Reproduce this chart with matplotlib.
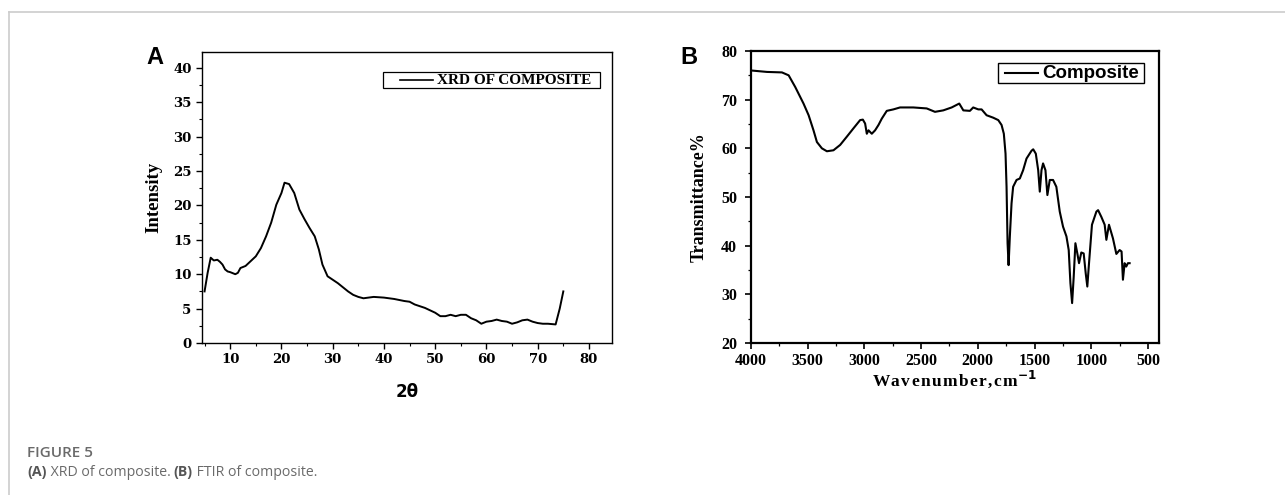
import matplotlib
matplotlib.use("Agg")
import matplotlib.pyplot as plt
from matplotlib.ticker import MultipleLocator
from matplotlib.lines import Line2D
from matplotlib.patches import Rectangle

# ---- Data: XRD (panel A) ----
xrd_2theta = [5.0, 5.6, 6.2, 6.8, 7.5, 8.0, 8.5, 9.0, 9.5, 10.0, 11.0, 11.5, 12.0, 13.0, 14.0,
              15.0, 16.0, 17.0, 18.0, 19.0, 20.0, 20.6, 21.5, 22.5, 23.5, 24.5, 25.5, 26.5,
              27.3, 28.0, 29.0, 30.0, 31.0, 32.0, 33.0, 34.0, 35.0, 36.0, 38.0, 40.0, 42.0,
              44.0, 45.0, 46.0, 48.0, 50.0, 51.0, 52.0, 53.0, 54.0, 55.0, 56.0, 57.0, 58.0,
              59.0, 60.0, 61.0, 62.0, 63.0, 64.0, 65.0, 66.0, 67.0, 68.0, 69.0, 70.0, 71.0,
              72.0, 73.5, 74.3, 75.0]
xrd_intensity = [7.5, 10.2, 12.4, 12.0, 12.1, 11.8, 11.4, 10.7, 10.4, 10.3, 10.0, 10.2, 10.9,
                 11.2, 11.9, 12.6, 13.8, 15.5, 17.5, 20.1, 21.8, 23.3, 23.1, 21.8, 19.4, 18.0,
                 16.7, 15.5, 13.6, 11.4, 9.7, 9.2, 8.7, 8.1, 7.5, 7.0, 6.7, 6.5, 6.7, 6.6,
                 6.4, 6.1, 6.0, 5.6, 5.1, 4.4, 3.9, 3.9, 4.1, 3.9, 4.1, 4.1, 3.6, 3.3, 2.8,
                 3.1, 3.2, 3.4, 3.2, 3.1, 2.8, 3.0, 3.3, 3.4, 3.1, 2.9, 2.8, 2.8, 2.7, 5.0, 7.5]

# ---- Data: FTIR (panel B) ----
ftir_wavenumber = [4000, 3859, 3727, 3668, 3610, 3537, 3492, 3449, 3419, 3375, 3331, 3273, 3214,
                   3155, 3097, 3038, 3014, 2994, 2979, 2964, 2935, 2906, 2876, 2847, 2803, 2745,
                   2686, 2569, 2451, 2378, 2305, 2231, 2164, 2128, 2070, 2041, 1996, 1967, 1923,
                   1865, 1820, 1791, 1771, 1756, 1747, 1738, 1729, 1718, 1703, 1689, 1659, 1630,
                   1601, 1571, 1527, 1512, 1489, 1468, 1454, 1439, 1425, 1404, 1387, 1366, 1337,
                   1308, 1278, 1249, 1219, 1199, 1184, 1169, 1155, 1140, 1123, 1108, 1088, 1067,
                   1049, 1035, 1020, 994, 955, 940, 911, 882, 867, 844, 809, 779, 750, 733, 721,
                   706, 692, 677, 662]
ftir_transmittance = [76.0, 75.7, 75.6, 75.0, 72.6, 69.2, 66.8, 63.7, 61.3, 60.0, 59.4, 59.6,
                      60.7, 62.4, 64.1, 65.8, 65.9, 65.1, 63.0, 63.7, 63.0, 63.7, 64.8, 66.1,
                      67.7, 68.0, 68.4, 68.4, 68.2, 67.5, 67.8, 68.4, 69.2, 67.8, 67.7, 68.4,
                      68.0, 68.0, 66.8, 66.3, 65.8, 64.8, 63.0, 58.9, 52.1, 40.5, 36.0, 41.9,
                      48.7, 52.1, 53.5, 53.8, 55.5, 57.9, 59.5, 59.8, 58.9, 55.5, 51.1, 55.5,
                      56.9, 55.5, 50.4, 53.5, 53.5, 52.1, 47.0, 43.9, 41.9, 39.1, 32.3, 28.2,
                      33.6, 40.5, 38.4, 36.4, 38.6, 38.4, 34.3, 31.6, 36.4, 44.3, 47.0, 47.3,
                      45.9, 44.3, 41.2, 44.3, 41.5, 38.3, 39.1, 38.8, 33.0, 36.4, 35.7, 36.4, 36.4]

xrd_xticks = [10, 20, 30, 40, 50, 60, 70, 80]
xrd_yticks = [0, 5, 10, 15, 20, 25, 30, 35, 40]
ftir_xticks = [4000, 3500, 3000, 2500, 2000, 1500, 1000, 500]
ftir_yticks = [20, 30, 40, 50, 60, 70, 80]

W, H = 1285, 495
fig = plt.figure(figsize=(W / 100, H / 100), dpi=100)

def box(l, t, r, b):
    return [l / W, 1 - b / H, (r - l) / W, (b - t) / H]

def fx(px):
    return px / W

def fy(py):
    return 1 - py / H

def manual_legend(l, t, r, b, h0, h1, label, family, size, lw_frame, lw_line):
    fig.add_artist(Rectangle((fx(l), fy(b)), fx(r) - fx(l), fy(t) - fy(b),
                             transform=fig.transFigure, fill=True, facecolor="white",
                             edgecolor="black", lw=lw_frame, zorder=5))
    yc = fy((t + b) / 2)
    fig.add_artist(Line2D([fx(h0), fx(h1)], [yc, yc], color="black", lw=lw_line, zorder=6))
    fig.text(fx(h1 + 4), yc, label, fontfamily=family, fontweight="bold", fontsize=size,
             va="center", ha="left", zorder=6)

# frame lines
fig.add_artist(Line2D([fx(9), 1], [fy(12), fy(12)], color="#cccccc", lw=1.2))
fig.add_artist(Line2D([fx(9), fx(9)], [fy(12), 0], color="#cccccc", lw=1.2))

# ---------- Panel A ----------
axA = fig.add_axes(box(202, 52, 612, 343))
axA.plot(xrd_2theta, xrd_intensity, color="black", lw=1.4)
axA.set_xlim(4.5, 84.5)
axA.set_ylim(0, 42.3)
axA.set_xticks(xrd_xticks)
axA.set_xticklabels([str(v) for v in xrd_xticks], fontfamily="DejaVu Serif",
                    fontweight="bold", fontsize=9.5)
axA.set_yticks(xrd_yticks)
axA.set_yticklabels([str(v) for v in xrd_yticks], fontfamily="DejaVu Serif",
                    fontweight="bold", fontsize=9.5)
axA.xaxis.set_minor_locator(MultipleLocator(5))
axA.yaxis.set_minor_locator(MultipleLocator(2.5))
axA.tick_params(which="both", direction="out", top=False, right=False)
axA.tick_params(which="major", length=4, width=1)
axA.tick_params(which="minor", length=2.5, width=0.8)
for s in axA.spines.values():
    s.set_linewidth(1.0)
axA.set_xlabel("2θ", fontfamily="DejaVu Sans", fontweight="bold", fontsize=12, labelpad=12)
axA.set_ylabel("Intensity", fontfamily="Liberation Serif", fontweight="bold", fontsize=13.5,
               labelpad=8)
manual_legend(383, 72, 600, 88, 400, 433, "XRD OF COMPOSITE", "Liberation Serif", 11, 0.9, 1.2)
fig.text(fx(155), fy(57), "A", fontsize=17, fontweight="bold", fontfamily="Liberation Sans",
         va="center", ha="center")

# ---------- Panel B ----------
axB = fig.add_axes(box(751, 51, 1159, 343))
axB.plot(ftir_wavenumber, ftir_transmittance, color="black", lw=1.5)
axB.set_xlim(4000, 403)
axB.set_ylim(20, 80)
axB.set_xticks(ftir_xticks)
axB.set_xticklabels([str(v) for v in ftir_xticks], fontfamily="Liberation Serif",
                    fontweight="bold", fontsize=11.5)
axB.set_yticks(ftir_yticks)
axB.set_yticklabels([str(v) for v in ftir_yticks], fontfamily="Liberation Serif",
                    fontweight="bold", fontsize=11.5)
axB.xaxis.set_minor_locator(MultipleLocator(250))
axB.yaxis.set_minor_locator(MultipleLocator(5))
axB.tick_params(which="both", direction="out", top=False, right=False)
axB.tick_params(which="major", length=4, width=1.2, pad=3)
axB.tick_params(axis="y", which="major", pad=6)
axB.tick_params(which="minor", length=2.5, width=0.9)
for s in axB.spines.values():
    s.set_linewidth(1.6)
hs = "\u200a"
axB.set_xlabel(hs.join("Wavenumber,cm") + r"$^{\mathbf{-1}}$",
               fontfamily=["Liberation Serif", "DejaVu Serif"],
               fontweight="bold", fontsize=12.5, labelpad=0)
axB.set_ylabel("Transmittance%", fontfamily="Liberation Serif", fontweight="bold",
               fontsize=13, labelpad=10)
manual_legend(998, 63, 1144, 83, 1005, 1038, "Composite", "Liberation Sans", 13.5, 1.0, 1.5)
fig.text(fx(689), fy(57), "B", fontsize=17, fontweight="bold", fontfamily="Liberation Sans",
         va="center", ha="center")

# ---------- Caption ----------
fig.text(fx(27), fy(453), "FIGURE 5", fontsize=11, fontfamily="Open Sans",
         fontweight="semibold", color="#6a6a6a", va="center", ha="left")
renderer = fig.canvas.get_renderer()
cap_fs = 10.2
pieces = [("(A)", "bold", "#555555"), (" XRD of composite. ", "normal", "#6a6a6a"),
          ("(B)", "bold", "#555555"), (" FTIR of composite.", "normal", "#6a6a6a")]
x = 27.0
for txt, wt, col in pieces:
    t = fig.text(fx(x), fy(472), txt, fontsize=cap_fs, fontfamily="Open Sans",
                 fontweight=wt, color=col, va="center", ha="left")
    bb = t.get_window_extent(renderer=renderer)
    x += bb.width

fig.savefig("out.png", dpi=100, facecolor="white")
